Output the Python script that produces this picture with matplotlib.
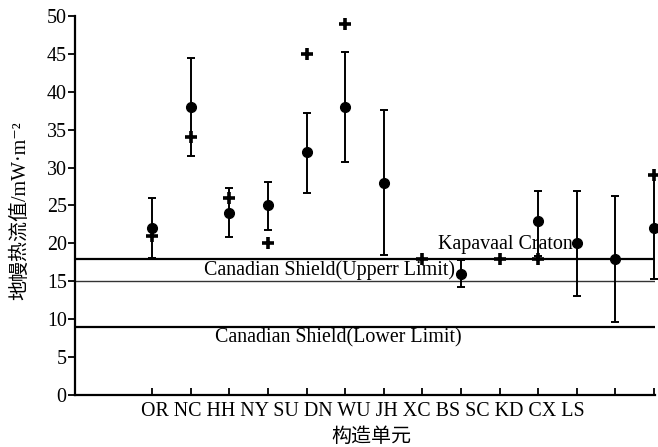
import numpy as np
import matplotlib
matplotlib.use("Agg")
from matplotlib import pyplot as plt

plt.rcParams['font.family'] = ['Liberation Serif', 'Noto Sans CJK SC', 'DejaVu Sans']

units = ["OR", "NC", "HH", "NY", "SU", "DN", "WU", "JH", "XC", "BS", "SC", "KD", "CX", "LS"]

# mean values (circles) with error bars
mean_pos = [1, 2, 3, 4, 5, 6, 7, 9, 11, 12, 13, 14]
mean_val = [22.0, 38.0, 24.0, 25.0, 32.0, 38.0, 28.0, 16.0, 23.0, 20.0, 18.0, 22.0]
err_top = [26.0, 44.5, 27.3, 28.1, 37.2, 45.2, 37.6, 17.8, 26.9, 26.9, 26.3, 29.0]
err_bot = [18.1, 31.5, 20.9, 21.8, 26.7, 30.7, 18.5, 14.2, 18.3, 13.1, 9.6, 15.3]

# crosses
cross_pos = [1, 2, 3, 4, 5, 6, 8, 10, 11, 14]
cross_val = [21.0, 34.0, 26.0, 20.0, 45.0, 49.0, 18.0, 18.0, 18.0, 29.0]

ref_lines = [18.0, 15.0, 9.0]

fig = plt.figure(figsize=(6.58, 4.47), dpi=100)
ax = fig.add_axes([0.114, 0.1163, 0.8815, 0.848])

mean_val = np.array(mean_val)
yerr = [mean_val - np.array(err_bot), np.array(err_top) - mean_val]
ax.errorbar(mean_pos, mean_val, yerr=yerr, fmt='o', color='black', ms=7,
            elinewidth=1.4, capsize=3, capthick=1.4, clip_on=False, zorder=3)
ax.plot(cross_pos, cross_val, '+', color='black', ms=9, mew=2.6, clip_on=False, zorder=4)

ax.axhline(ref_lines[0], color='black', lw=1.6)
ax.axhline(ref_lines[1], color='#333333', lw=1.0)
ax.axhline(ref_lines[2], color='black', lw=1.6)

fs = 14.4
ax.text(8.41, 19.9, "Kapavaal Craton", fontsize=fs, ha='left', va='center')
ax.text(2.35, 16.5, "Canadian Shield(Upperr Limit)", fontsize=fs, ha='left', va='center')
ax.text(2.63, 7.5, "Canadian Shield(Lower Limit)", fontsize=fs, ha='left', va='center')

ax.set_xlim(-1, 14.03)
ax.set_ylim(0, 50)
ax.set_xticks(range(1, 15))
ax.set_xticklabels([])
ax.set_yticks(range(0, 51, 5))
ax.tick_params(axis='y', direction='out', length=5, width=1.3, labelsize=fs, pad=1)
ax.tick_params(axis='x', direction='in', length=5, width=1.3)
for s in ['top', 'right']:
    ax.spines[s].set_visible(False)
for s in ['left', 'bottom']:
    ax.spines[s].set_linewidth(1.6)

# unit labels written as one row under the axis, as in the original figure
fig.text(363 / 658, 1 - 411 / 447, " ".join(units), fontsize=fs, ha='center', va='center')
fig.text(371 / 658, 1 - 437 / 447, "构造单元", fontsize=fs, ha='center', va='center')
fig.text(21 / 658, 1 - 211 / 447, "地幔热流值/mW·m⁻²", fontsize=fs, ha='center',
         va='center', rotation=90)

fig.savefig("out.png", dpi=100)
